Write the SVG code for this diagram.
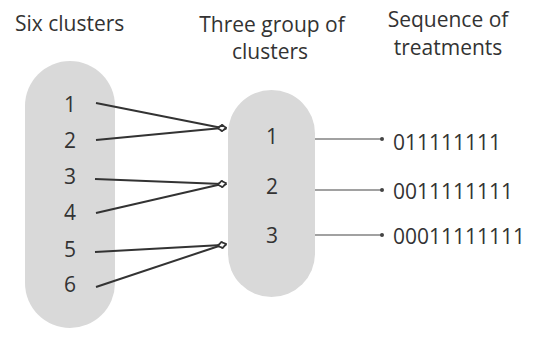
<svg xmlns="http://www.w3.org/2000/svg" width="536" height="350" viewBox="0 0 536 350">
<style>
text{font-family:"Open Sans","Noto Sans",sans-serif;fill:#333;font-size:21px}
.num{text-anchor:middle}
.pill{fill:#d9d9d9}
.edge{stroke:#333;stroke-width:2;fill:none}
.out{stroke:#444;stroke-width:1.2;fill:none}
</style>
<defs>
<marker id="dia" viewBox="-5 -5 10 10" markerWidth="10" markerHeight="10" refX="0" refY="0" orient="auto" markerUnits="userSpaceOnUse">
<path d="M-4,0 L0,-3 L4,0 L0,3 Z" fill="#fff" stroke="#333" stroke-width="1.6"/>
</marker>
<marker id="dot" viewBox="-3 -3 6 6" markerWidth="6" markerHeight="6" refX="0" refY="0" markerUnits="userSpaceOnUse">
<circle r="2" fill="#444"/>
</marker>
</defs>
<g id="titles">
<text x="15" y="31">Six clusters</text>
<text x="272" y="32" class="num">Three group of</text>
<text x="270" y="59" class="num">clusters</text>
<text x="448" y="27" class="num">Sequence of</text>
<text x="448" y="55" class="num">treatments</text>
</g>
<g id="six-clusters">
<rect class="pill" x="25" y="61" width="90" height="267" rx="45"/>
<text class="num" x="70" y="112">1</text>
<text class="num" x="70" y="148">2</text>
<text class="num" x="70" y="184">3</text>
<text class="num" x="70" y="220">4</text>
<text class="num" x="70" y="257">5</text>
<text class="num" x="70" y="292">6</text>
</g>
<g id="three-groups">
<rect class="pill" x="228" y="90" width="87" height="207" rx="43.5"/>
<text class="num" x="272" y="144">1</text>
<text class="num" x="272" y="194">2</text>
<text class="num" x="272" y="243">3</text>
</g>
<g id="sequences">
<text x="393" y="150">011111111</text>
<text x="393" y="199">0011111111</text>
<text x="393" y="244">00011111111</text>
</g>
<g id="connectors">
<path class="edge" d="M96,103 L222,128" marker-end="url(#dia)"/>
<path class="edge" d="M96,140 L222,128" marker-end="url(#dia)"/>
<path class="edge" d="M95,179 L222,184" marker-end="url(#dia)"/>
<path class="edge" d="M96,213 L222,184" marker-end="url(#dia)"/>
<path class="edge" d="M95,252 L222,245" marker-end="url(#dia)"/>
<path class="edge" d="M96,287 L222,245" marker-end="url(#dia)"/>
<path class="out" d="M315,139 L382,139" marker-end="url(#dot)"/>
<path class="out" d="M315,190 L382,190" marker-end="url(#dot)"/>
<path class="out" d="M315,235 L382,235" marker-end="url(#dot)"/>
</g>
</svg>
